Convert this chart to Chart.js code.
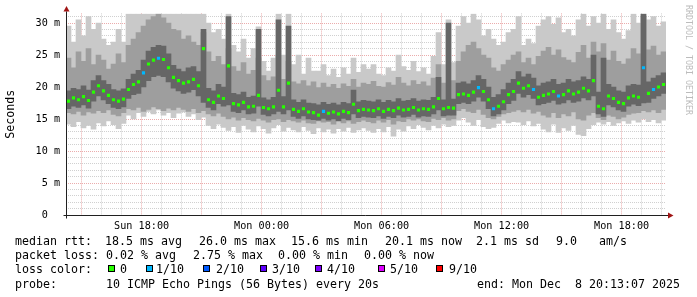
<!DOCTYPE html>
<html>
<head>
<meta charset="utf-8">
<title>Smokeping latency</title>
<script src="https://cdn.jsdelivr.net/npm/chart.js@4.4.1/dist/chart.umd.min.js"></script>
<style>
  html, body { margin: 0; padding: 0; background: #fff; }
  #wrap { position: relative; width: 697px; height: 297px; overflow: hidden; }
  #chart { position: absolute; left: 0; top: 0; }
  .t { position: absolute; font-family: 'DejaVu Sans Mono', monospace; font-size: 11.63px; line-height: 14px; white-space: pre; color: #000; }
  .box { position: absolute; top: 265px; width: 7px; height: 7px; box-sizing: border-box; border: 1px solid #000; }
</style>
</head>
<body>
<div id="wrap">
  <canvas id="chart" width="697" height="297"></canvas>

  <div class="t" style="left:15px;top:234px">median rtt:</div>
  <div class="t" style="left:105px;top:234px">18.5 ms avg</div>
  <div class="t" style="left:199px;top:234px">26.0 ms max</div>
  <div class="t" style="left:291px;top:234px">15.6 ms min</div>
  <div class="t" style="left:385px;top:234px">20.1 ms now</div>
  <div class="t" style="left:476px;top:234px">2.1 ms sd</div>
  <div class="t" style="left:556px;top:234px">9.0</div>
  <div class="t" style="left:599px;top:234px">am/s</div>

  <div class="t" style="left:15px;top:248.2px">packet loss:</div>
  <div class="t" style="left:106px;top:248.2px">0.02 % avg</div>
  <div class="t" style="left:193px;top:248.2px">2.75 % max</div>
  <div class="t" style="left:278px;top:248.2px">0.00 % min</div>
  <div class="t" style="left:364px;top:248.2px">0.00 % now</div>

  <div class="t" style="left:15px;top:262.4px">loss color:</div>
  <div class="box" style="left:108px;background:#26ff00"></div>
  <div class="t" style="left:120px;top:262.4px">0</div>
  <div class="box" style="left:146px;background:#00b8ff"></div>
  <div class="t" style="left:156px;top:262.4px">1/10</div>
  <div class="box" style="left:203px;background:#0059ff"></div>
  <div class="t" style="left:216px;top:262.4px">2/10</div>
  <div class="box" style="left:260px;background:#5e00ff"></div>
  <div class="t" style="left:272px;top:262.4px">3/10</div>
  <div class="box" style="left:315px;background:#7e00ff"></div>
  <div class="t" style="left:327px;top:262.4px">4/10</div>
  <div class="box" style="left:378px;background:#dd00ff"></div>
  <div class="t" style="left:390px;top:262.4px">5/10</div>
  <div class="box" style="left:436px;background:#ff0000"></div>
  <div class="t" style="left:449px;top:262.4px">9/10</div>

  <div class="t" style="left:15px;top:276.6px">probe:</div>
  <div class="t" style="left:106px;top:276.6px">10 ICMP Echo Pings (56 Bytes) every 20s</div>
  <div class="t" style="left:477px;top:276.6px">end: Mon Dec  8 20:13:07 2025</div>
</div>

<script>
// 30 hours window, Sun 14:13 -> Mon 20:13 (hours counted from Sun 00:00)
const startHour = 14.2186;
const spanHours = 30;
const stepHours = 0.25;

const xLabelHours = [18, 24, 30, 36, 42];
const xLabelText = ['Sun 18:00', 'Mon 00:00', 'Mon 06:00', 'Mon 12:00', 'Mon 18:00'];
const yLabelValues = [0, 5, 10, 15, 20, 25, 30];
const yLabelText = ['0  ', '5 m', '10 m', '15 m', '20 m', '25 m', '30 m'];

// median rtt (ms), one value per 15 min
const median = [
  17.8, 18.3, 18.0, 18.5, 17.9, 19.2, 20.2, 19.4, 18.7, 18.0, 17.8, 18.1,
  19.6, 20.4, 20.8, 22.2, 23.6, 24.2, 24.5, 24.3, 23.0, 21.5, 21.0, 20.6, 20.8, 21.2, 20.2, 26.0,
  18.0, 17.6, 18.6, 18.2,
  23.3, 17.4, 17.2, 17.6, 16.9, 17.0, 18.7, 16.8, 16.6, 16.9, 19.5, 16.9, 20.6, 16.5,
  16.2, 16.6, 16.1, 16.0, 15.6, 16.2, 15.9, 16.1, 15.8, 16.2, 16.0, 17.3, 16.3, 16.5,
  16.4, 16.3, 16.6, 16.2, 16.5, 16.3, 16.7, 16.4, 16.5, 16.8, 16.4, 16.6, 16.5, 16.9, 18.2, 16.6, 16.8, 16.7,
  18.8, 18.9, 18.7, 19.2, 19.9, 19.3, 18.0, 16.6, 17.0, 17.7, 18.8, 19.3,
  20.6, 19.8, 20.2, 19.6, 18.4, 18.7, 18.9, 19.3, 18.6, 18.8, 19.4, 18.9, 19.2, 19.8, 19.4,
  21.0, 17.0, 16.6, 18.6, 18.2, 17.6, 17.4, 18.3, 18.6, 18.4, 23.0, 19.0, 19.6, 20.0, 20.4
];

// lost pings out of 10
const lossCount = [
  0,0,0,0,0,0,0,0,0,0, 0,0,0,0,0,1,0,0,1,0, 0,0,0,0,0,0,0,0,0,0,
  0,0,0,0,0,0,0,0,0,0, 0,0,0,0,0,0,0,0,0,0, 0,1,0,0,0,0,0,0,0,0,
  0,0,0,0,0,0,0,0,0,0, 0,0,0,0,0,0,0,0,0,0, 0,0,1,0,0,1,0,0,0,0,
  0,0,0,1,0,0,0,0,1,0, 0,0,0,0,0,0,0,0,0,0, 0,0,0,0,0,1,0,1,0,0
];

// smoke: spread of the individual pings (ms)
const smokeMax = [
  29.5, 27.0, 30.5, 28.0, 31.0, 29.0, 30.0, 27.5, 26.5, 27.0, 29.0, 27.0,
  31.4, 31.4, 31.4, 31.4, 31.4, 31.4, 31.4, 31.4, 31.4, 31.4, 31.4, 31.4, 31.4, 31.4, 31.4, 31.4,
  30.0, 28.5, 29.0, 27.5,
  31.4, 26.5, 25.5, 27.5, 24.5, 26.0, 29.4, 24.0, 22.5, 24.5, 31.4, 25.0, 31.4, 23.5,
  25.0, 22.0, 24.5, 22.5, 22.5, 23.5, 21.8, 22.8, 21.5, 23.0, 22.0, 24.5, 22.3, 23.5,
  22.8, 23.5, 22.0, 21.8, 23.0, 22.5, 25.0, 23.2, 22.6, 24.0, 22.4, 23.0, 22.0, 24.8, 28.5, 23.5, 30.5, 23.8,
  29.5, 31.0, 30.0, 31.4, 30.5, 28.0, 29.0, 27.5, 26.5, 27.0, 28.5, 29.0,
  31.0, 26.5, 27.5, 26.8, 29.5, 30.5, 31.0, 29.8, 30.8, 28.5, 29.0, 28.0, 30.5, 31.4, 29.5,
  31.0, 30.0, 31.4, 29.0, 30.5, 28.5, 27.5, 28.8, 31.4, 30.0, 31.4, 30.5, 31.0, 29.5, 30.2
];
const smokeHi2 = [
  24.5, 23.0, 25.5, 24.0, 26.0, 23.5, 25.0, 24.2, 22.8, 23.6, 25.2, 23.8,
  26.5, 27.5, 28.5, 29.5, 30.5, 31.0, 31.4, 30.8, 30.0, 29.0, 28.8, 27.5, 28.0, 27.0, 26.5, 28.5,
  25.5, 24.0, 24.8, 23.5,
  26.0, 23.2, 22.5, 23.8, 22.0, 22.6, 24.5, 21.8, 21.0, 21.6, 25.0, 21.2, 24.0, 20.8,
  20.5, 21.0, 20.2, 20.8, 19.9, 20.6, 20.0, 20.4, 19.8, 20.5, 20.1, 21.2, 20.0, 20.6,
  20.4, 20.9, 20.1, 20.0, 20.7, 20.3, 21.5, 20.6, 20.2, 21.0, 20.4, 20.8, 20.2, 21.4, 23.5, 20.6, 20.3, 21.0,
  24.0, 25.5, 26.5, 27.0, 26.0, 25.0, 24.5, 23.0, 22.5, 23.5, 24.2, 25.0,
  25.5, 23.8, 24.5, 23.5, 24.8, 25.6, 26.2, 25.0, 25.8, 24.6, 24.2, 23.8, 25.4, 26.5, 24.5,
  27.0, 25.5, 26.8, 24.2, 25.6, 24.0, 23.6, 24.4, 26.0, 25.2, 31.0, 25.8, 26.4, 25.0, 25.5
];
const smokeHi3 = [
  19.4, 19.8, 19.6, 20.2, 19.5, 21.0, 21.8, 21.0, 20.4, 19.6, 19.4, 19.7,
  21.2, 22.0, 22.6, 24.2, 25.6, 26.2, 26.5, 26.4, 25.2, 23.4, 22.8, 22.4, 23.0, 23.2, 22.4, 29.0,
  19.8, 19.4, 20.4, 20.0,
  31.0, 19.0, 18.8, 19.2, 18.4, 18.6, 29.0, 18.3, 18.0, 18.4, 30.5, 18.5, 29.5, 18.0,
  17.6, 18.0, 17.5, 17.4, 17.2, 17.6, 17.3, 17.5, 17.2, 17.6, 17.4, 19.5, 17.7, 17.9,
  17.8, 17.7, 18.0, 17.6, 17.9, 17.7, 18.2, 17.8, 17.9, 18.2, 17.8, 18.0, 17.9, 18.4, 21.5, 18.0, 30.0, 18.1,
  20.6, 20.8, 20.5, 21.0, 21.8, 21.2, 20.0, 18.4, 18.8, 19.6, 20.6, 21.2,
  22.4, 21.6, 22.0, 21.4, 20.2, 20.6, 20.8, 21.2, 20.4, 20.6, 21.2, 20.8, 21.0, 21.6, 21.2,
  25.0, 19.2, 24.5, 20.4, 20.0, 19.4, 19.2, 20.2, 20.4, 20.3, 31.4, 20.8, 21.4, 21.8, 22.2
];
const smokeLo3 = [
  16.6, 17.0, 16.8, 17.2, 16.7, 17.8, 18.6, 18.0, 17.4, 16.8, 16.6, 16.9,
  18.2, 18.8, 19.0, 20.0, 21.0, 21.6, 21.8, 21.6, 20.8, 19.8, 19.4, 19.0, 19.2, 19.6, 18.6, 17.6,
  16.8, 16.4, 17.4, 17.0,
  17.2, 16.2, 16.0, 16.4, 15.8, 15.9, 17.0, 15.7, 15.5, 15.8, 16.2, 15.8, 16.4, 15.4,
  15.1, 15.5, 15.0, 14.9, 14.8, 15.1, 14.8, 15.0, 14.7, 15.1, 14.9, 15.8, 15.2, 15.4,
  15.3, 15.2, 15.5, 15.1, 15.4, 15.2, 15.6, 15.3, 15.4, 15.7, 15.3, 15.5, 15.4, 15.8, 16.4, 15.5, 15.6, 15.6,
  17.4, 17.6, 17.4, 17.8, 18.4, 17.8, 16.6, 15.5, 15.8, 16.4, 17.4, 17.9,
  19.0, 18.4, 18.8, 18.2, 17.2, 17.4, 17.6, 17.9, 17.3, 17.5, 18.0, 17.6, 17.8, 18.3, 18.0,
  18.6, 15.8, 15.4, 17.2, 16.9, 16.4, 16.2, 17.0, 17.3, 17.1, 17.5, 17.6, 18.2, 18.6, 19.0
];
const smokeLo2 = [
  16.0, 15.8, 16.2, 15.6, 16.1, 15.9, 16.3, 16.0, 16.4, 15.7, 15.5, 16.0,
  16.6, 16.4, 16.8, 16.2, 16.5, 16.9, 16.6, 16.3, 16.7, 16.4, 16.8, 16.5, 16.2, 16.6, 16.0, 16.3,
  15.8, 15.5, 15.9, 15.4,
  15.0, 15.3, 14.8, 15.2, 14.9, 14.7, 15.1, 14.8, 14.5, 14.9, 15.0, 14.6, 14.9, 14.7,
  14.5, 14.8, 14.4, 14.3, 14.7, 14.5, 14.6, 14.2, 14.8, 14.4, 14.7, 14.3, 14.6, 14.8,
  14.6, 14.4, 14.8, 14.5, 14.9, 14.2, 14.7, 14.6, 15.0, 14.8, 15.0, 14.7, 14.6, 15.1, 14.9, 15.2, 14.8, 15.0,
  16.3, 16.6, 16.2, 16.0, 16.5, 15.7, 15.2, 15.0, 15.4, 15.8, 16.0, 16.2,
  16.4, 16.1, 16.5, 15.9, 16.2, 15.6, 15.3, 16.0, 15.2, 15.8, 15.5, 16.1, 15.0, 14.8, 15.6,
  16.0, 15.2, 14.9, 15.6, 15.4, 15.0, 15.3, 15.7, 15.9, 16.0, 16.3, 16.1, 16.4, 16.0, 16.5
];
const smokeMin = [
  14.2, 13.8, 14.6, 13.6, 14.0, 13.4, 14.4, 13.9, 14.7, 14.1, 13.5, 14.3,
  15.6, 15.0, 16.0, 15.4, 16.2, 15.8, 16.4, 15.6, 16.0, 15.2, 15.9, 16.1, 15.4, 15.8, 14.9, 15.3,
  14.0, 13.5, 14.2, 13.7,
  13.2, 13.8, 12.9, 14.0, 13.4, 13.0, 13.9, 13.5, 12.8, 13.6, 14.1, 13.1, 13.7, 13.3,
  13.0, 13.8, 13.2, 12.7, 13.6, 13.0, 13.4, 12.8, 13.5, 13.1, 13.7, 12.9, 13.3, 13.6,
  13.2, 12.9, 13.5, 13.0, 13.8, 12.3, 13.4, 13.1, 13.9, 13.5, 14.1, 13.7, 13.3, 14.0, 13.6, 14.2, 13.8, 14.0,
  14.8, 15.2, 14.5, 14.0, 14.9, 13.8, 13.5, 13.7, 14.3, 14.8, 14.4, 14.6,
  14.5, 14.1, 14.7, 13.9, 14.3, 13.4, 13.0, 14.2, 12.9, 13.6, 13.2, 14.0, 12.6, 12.4, 13.5,
  14.1, 14.5, 14.2, 14.6, 14.0, 14.4, 14.7, 14.3, 14.8, 14.5, 15.0, 14.6, 14.9, 14.4, 14.8
];

const lossColors = ['#26ff00', '#00b8ff', '#0059ff', '#5e00ff', '#7e00ff',
  '#dd00ff', '#dd00ff', '#dd00ff', '#dd00ff', '#ff0000', '#ff0000'];

const times = median.map((_, i) => startHour + (i + 0.5) * stepHours);
const band = (lo, hi) => times.map((t, i) => ({ x: t, y: [lo[i], hi[i]] }));

const minorGrid = 'rgba(120,120,120,0.35)';
const majorGrid = 'rgba(210,70,70,0.45)';
const axisFont = { family: 'DejaVu Sans Mono', size: 10.17 };

// axes with arrows and the vertical rrdtool credit
const rrdFrame = {
  id: 'rrdFrame',
  afterDraw(chart) {
    const { ctx, chartArea: a, scales: { y } } = chart;
    const y0 = Math.round(y.getPixelForValue(0)) + 0.5;
    const x0 = Math.round(a.left) + 0.5;
    ctx.save();
    ctx.strokeStyle = '#202020';
    ctx.lineWidth = 1;
    ctx.beginPath();
    ctx.moveTo(x0 - 3, y0); ctx.lineTo(a.right + 2, y0);
    ctx.moveTo(x0, y0 + 3); ctx.lineTo(x0, a.top - 2);
    ctx.stroke();
    ctx.fillStyle = '#a01414';
    ctx.beginPath();
    ctx.moveTo(a.right + 2, y0 - 3); ctx.lineTo(a.right + 7.5, y0); ctx.lineTo(a.right + 2, y0 + 3);
    ctx.fill();
    ctx.beginPath();
    ctx.moveTo(x0 - 3, a.top - 2); ctx.lineTo(x0, a.top - 7.5); ctx.lineTo(x0 + 3, a.top - 2);
    ctx.fill();

    ctx.translate(688.5, 5);
    ctx.rotate(Math.PI / 2);
    ctx.font = '8.3px "DejaVu Sans Mono"';
    ctx.textBaseline = 'middle';
    ctx.fillStyle = '#bcbcbc';
    ctx.fillText('RRDTOOL / TOBI OETIKER', 0, 0);
    ctx.restore();
  }
};

new Chart(document.getElementById('chart'), {
  data: {
    datasets: [
      {
        type: 'line',
        data: times.map((t, i) => ({ x: t, y: median[i] })),
        showLine: false,
        pointStyle: 'rect',
        pointRadius: 2.2,
        pointBorderWidth: 0,
        pointBackgroundColor: lossCount.map(n => lossColors[n])
      },
      { type: 'bar', data: band(smokeLo3, smokeHi3), backgroundColor: '#666666' },
      { type: 'bar', data: band(smokeLo2, smokeHi2), backgroundColor: '#9e9e9e' },
      { type: 'bar', data: band(smokeMin, smokeMax), backgroundColor: '#c9c9c9' }
    ]
  },
  options: {
    responsive: false,
    animation: false,
    devicePixelRatio: 1,
    events: [],
    layout: { padding: { left: 0, right: 31, top: 13.4, bottom: 0 } },
    datasets: {
      bar: { grouped: false, barPercentage: 1, categoryPercentage: 1, borderWidth: 0 }
    },
    plugins: { legend: { display: false }, tooltip: { enabled: false } },
    scales: {
      x: {
        type: 'linear',
        offset: false,
        min: startHour,
        max: startHour + spanHours,
        z: 1,
        afterBuildTicks: s => {
          const t = [];
          for (let h = Math.ceil(s.min); h <= s.max; h++) t.push({ value: h });
          s.ticks = t;
        },
        afterFit: s => { s.height = 82; },
        grid: {
          offset: false,
          drawTicks: false,
          color: c => (c.tick && c.tick.value % 3 === 0 ? majorGrid : minorGrid)
        },
        border: { display: false, dash: [1, 1] },
        ticks: {
          autoSkip: false,
          maxRotation: 0,
          minRotation: 0,
          padding: 5,
          color: '#000',
          font: axisFont,
          callback: v => {
            const k = xLabelHours.indexOf(v);
            return k < 0 ? '' : xLabelText[k];
          }
        }
      },
      y: {
        type: 'linear',
        min: 0,
        max: 31.5,
        z: 1,
        afterBuildTicks: s => {
          const t = [];
          for (let v = 0; v <= s.max; v++) t.push({ value: v });
          s.ticks = t;
        },
        afterFit: s => { s.width = 66; },
        grid: {
          drawTicks: false,
          color: c => (c.tick && c.tick.value % 5 === 0 ? majorGrid : minorGrid)
        },
        border: { display: false, dash: [1, 1] },
        ticks: {
          autoSkip: false,
          padding: 6,
          color: '#000',
          font: axisFont,
          callback: v => {
            const k = yLabelValues.indexOf(v);
            return k < 0 ? '' : yLabelText[k];
          }
        },
        title: {
          display: true,
          text: 'Seconds',
          color: '#000',
          font: { family: 'DejaVu Sans Mono', size: 11.63 },
          padding: { top: 4, bottom: 0 }
        }
      }
    }
  },
  plugins: [rrdFrame]
});
</script>
</body>
</html>
